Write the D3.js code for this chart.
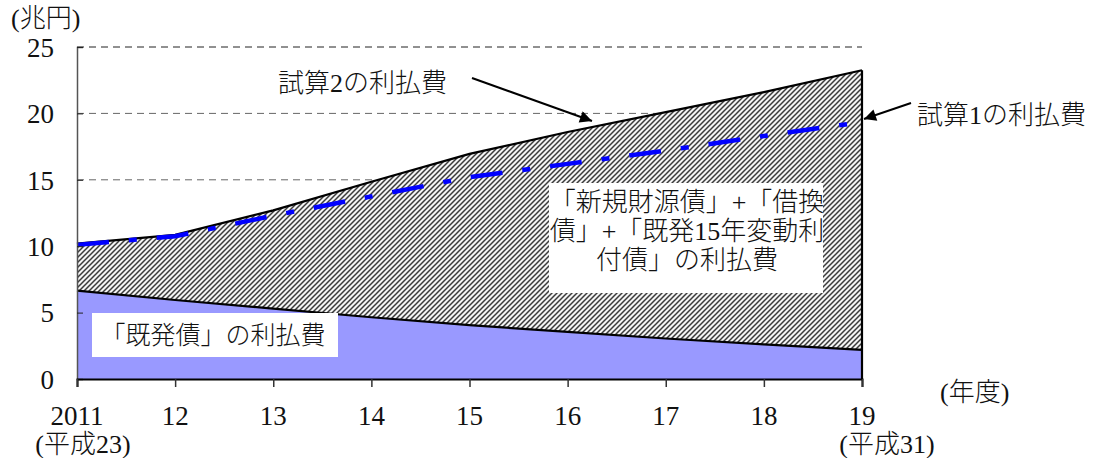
<!DOCTYPE html>
<html>
<head>
<meta charset="utf-8">
<script src="https://cdn.jsdelivr.net/npm/d3@7/dist/d3.min.js"></script>
<style>
  html, body { margin: 0; padding: 0; background: #fff; }
  svg { display: block; }
  text { font-family: "Liberation Serif", "Noto Sans CJK JP", serif; fill: #111; font-weight: 300; }
</style>
</head>
<body>
<svg id="chart" width="1097" height="458"></svg>
<script>
// Fiscal years and interest-payment series (兆円)
const years = [2011, 2012, 2013, 2014, 2015, 2016, 2017, 2018, 2019];
const yearLabels = ["2011", "12", "13", "14", "15", "16", "17", "18", "19"];
const eraLabels = { 2011: "(平成23)", 2019: "(平成31)" };
const existingBonds = [6.65, 5.95, 5.3, 4.65, 4.05, 3.55, 3.05, 2.6, 2.2];   // 「既発債」の利払費
const estimate2 = [10.2, 10.85, 12.7, 14.85, 16.95, 18.6, 20.1, 21.6, 23.25]; // 試算2の利払費
const estimate1 = [10.1, 10.75, 12.3, 13.75, 15.2, 16.2, 17.2, 18.3, 19.35];  // 試算1の利払費
const yTicks = [0, 5, 10, 15, 20, 25];

const svg = d3.select("#chart");
const x = d3.scaleLinear().domain([2011, 2019]).range([77, 862]);
const y = d3.scaleLinear().domain([0, 25]).range([379, 47]);

// hatch pattern and arrowheads
const defs = svg.append("defs");
const pat = defs.append("pattern")
  .attr("id", "hatch").attr("patternUnits", "userSpaceOnUse")
  .attr("width", 5).attr("height", 5);
pat.append("rect").attr("width", 5).attr("height", 5).attr("fill", "#f4f4f4");
pat.append("path")
  .attr("d", "M0,5 L5,0 M-1,1 L1,-1 M4,6 L6,4")
  .attr("stroke", "#3a3a3a").attr("stroke-width", 1.5);

defs.append("marker")
  .attr("id", "arrow").attr("viewBox", "0 0 10 10")
  .attr("refX", 10).attr("refY", 5)
  .attr("markerWidth", 7).attr("markerHeight", 6)
  .attr("markerUnits", "strokeWidth")
  .attr("orient", "auto")
  .append("path").attr("d", "M0,0 L10,5 L0,10 Z").attr("fill", "#000");

// gridlines
svg.append("g").selectAll("line")
  .data(yTicks.filter(d => d > 0))
  .join("line")
  .attr("x1", x(2011)).attr("x2", x(2019))
  .attr("y1", d => y(d)).attr("y2", d => y(d))
  .attr("stroke", d => d === 25 ? "#222" : "#666")
  .attr("stroke-width", 1)
  .attr("stroke-dasharray", "7,5");

const rows = years.map((yr, i) => ({ yr, a: existingBonds[i], b: estimate2[i], c: estimate1[i] }));

// hatched area: new + refinancing + floating-rate bonds
svg.append("path")
  .datum(rows)
  .attr("fill", "url(#hatch)")
  .attr("d", d3.area().x(d => x(d.yr)).y0(d => y(d.a)).y1(d => y(d.b)));

// existing bonds area
svg.append("path")
  .datum(rows)
  .attr("fill", "#9999ff")
  .attr("d", d3.area().x(d => x(d.yr)).y0(y(0)).y1(d => y(d.a)));

// boundary lines
const line = acc => d3.line().x(d => x(d.yr)).y(acc);
svg.append("path").datum(rows).attr("fill", "none")
  .attr("stroke", "#000").attr("stroke-width", 2.2)
  .attr("d", line(d => y(d.a)));
svg.append("path").datum(rows).attr("fill", "none")
  .attr("stroke", "#000").attr("stroke-width", 2.2)
  .attr("d", line(d => y(d.b)));
svg.append("line")
  .attr("x1", x(2019)).attr("x2", x(2019))
  .attr("y1", y(0)).attr("y2", y(estimate2[estimate2.length - 1]))
  .attr("stroke", "#000").attr("stroke-width", 2.2);

// estimate 1 dashed line
svg.append("path").datum(rows).attr("fill", "none")
  .attr("stroke", "#0000ff").attr("stroke-width", 4.5)
  .attr("stroke-dasharray", "32,20,8,20")
  .attr("d", line(d => y(d.c)));

// axes
const yAxis = svg.append("g").attr("transform", `translate(${x(2011)},0)`)
  .call(d3.axisRight(y).tickValues(yTicks).tickSize(6).tickFormat(""));
yAxis.select(".domain").attr("stroke", "#555").attr("stroke-width", 1.5);
yAxis.selectAll(".tick line").attr("stroke", "#222");

svg.append("g").selectAll("text")
  .data(yTicks).join("text")
  .attr("x", 54).attr("y", d => y(d)).attr("dy", "0.36em")
  .attr("text-anchor", "end").attr("font-size", 27)
  .text(d => d);

const xAxis = svg.append("g").attr("transform", `translate(0,${y(0)})`)
  .call(d3.axisBottom(x).tickValues(years).tickSize(8).tickFormat(""));
xAxis.select(".domain").attr("stroke", "#000").attr("stroke-width", 2);
xAxis.selectAll(".tick line").attr("stroke", "#333").attr("stroke-width", 1.5);

svg.append("g").selectAll("text")
  .data(years).join("text")
  .attr("x", d => x(d)).attr("y", 425)
  .attr("text-anchor", "middle").attr("font-size", 27)
  .text((d, i) => yearLabels[i]);

svg.append("g").selectAll("text")
  .data(years.filter(d => eraLabels[d])).join("text")
  .attr("x", d => x(d) + (d === 2011 ? 6 : 25)).attr("y", 453)
  .attr("text-anchor", "middle").attr("font-size", 26)
  .text(d => eraLabels[d]);

svg.append("text").attr("x", 11).attr("y", 27).attr("font-size", 26).text("(兆円)");
svg.append("text").attr("x", 940).attr("y", 401).attr("font-size", 26).text("(年度)");

// labelled boxes
svg.append("rect").attr("x", 92).attr("y", 313).attr("width", 246).attr("height", 44).attr("fill", "#fff");
svg.append("text").attr("x", 213).attr("y", 344).attr("text-anchor", "middle")
  .attr("font-size", 25).text("「既発債」の利払費");

svg.append("rect").attr("x", 549).attr("y", 183).attr("width", 274).attr("height", 110).attr("fill", "#fff");
const boxLines = ["「新規財源債」+「借換", "債」+「既発15年変動利", "付債」の利払費"];
svg.append("g").selectAll("text").data(boxLines).join("text")
  .attr("x", 687).attr("y", (d, i) => 211 + i * 29)
  .attr("text-anchor", "middle").attr("font-size", 26)
  .text(d => d);

// annotations with arrows
svg.append("text").attr("x", 278).attr("y", 92).attr("font-size", 26).text("試算2の利払費");
svg.append("line").attr("x1", 472).attr("y1", 78).attr("x2", 592).attr("y2", 121)
  .attr("stroke", "#000").attr("stroke-width", 2).attr("marker-end", "url(#arrow)");

svg.append("text").attr("x", 917).attr("y", 124).attr("font-size", 26).text("試算1の利払費");
svg.append("line").attr("x1", 911).attr("y1", 103).attr("x2", 864).attr("y2", 119)
  .attr("stroke", "#000").attr("stroke-width", 2).attr("marker-end", "url(#arrow)");
</script>
</body>
</html>
